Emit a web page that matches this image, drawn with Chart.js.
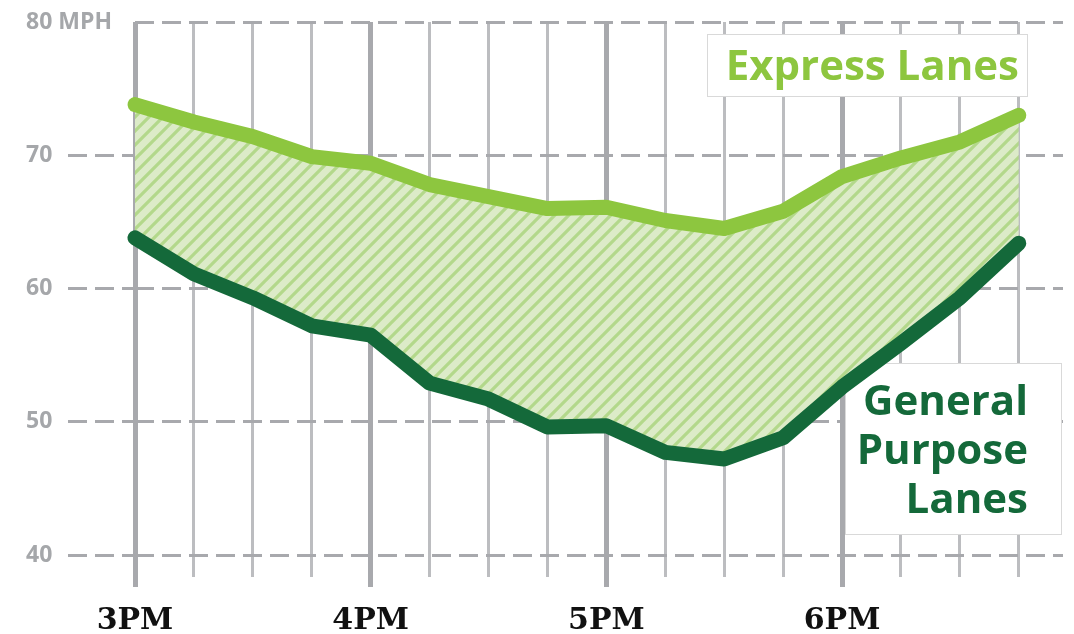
<!DOCTYPE html>
<html>
<head>
<meta charset="utf-8">
<script src="https://cdn.jsdelivr.net/npm/chart.js@4.4.1/dist/chart.umd.min.js"></script>
<style>
html,body{margin:0;padding:0;background:#ffffff;}
#wrap{width:1074px;height:634px;position:relative;}
</style>
</head>
<body>
<div id="wrap"><canvas id="c" width="1074" height="634"></canvas></div>
<script>
// ---- data ----
const times = ['3:00','3:15','3:30','3:45','4:00','4:15','4:30','4:45','5:00','5:15','5:30','5:45','6:00','6:15','6:30','6:45'];
const expressLanes = [73.8, 72.5, 71.4, 69.9, 69.4, 67.8, 66.9, 66.0, 66.1, 65.1, 64.5, 65.8, 68.4, 69.8, 71.0, 73.0];
const generalPurposeLanes = [63.8, 61.1, 59.3, 57.2, 56.5, 52.9, 51.7, 49.6, 49.7, 47.7, 47.2, 48.8, 52.6, 55.9, 59.3, 63.4];
const hourLabels = ['3PM', '4PM', '5PM', '6PM'];
const yTickValues = [40, 50, 60, 70, 80];
const yTickLabels = ['40', '50', '60', '70', '80 MPH'];
const seriesNames = ['Express Lanes', 'General Purpose Lanes'];

const canvas = document.getElementById('c');
const ctx = canvas.getContext('2d');

function makeHatch() {
  const s = 14;
  const c = document.createElement('canvas');
  c.width = s; c.height = s;
  const g = c.getContext('2d');
  g.fillStyle = '#dcebc8';
  g.fillRect(0, 0, s, s);
  g.strokeStyle = '#b3d88b';
  g.lineWidth = 3.2;
  g.beginPath();
  g.moveTo(-s, s); g.lineTo(s, -s);
  g.moveTo(0, s); g.lineTo(s, 0);
  g.moveTo(0, 2 * s); g.lineTo(2 * s, 0);
  g.stroke();
  return ctx.createPattern(c, 'repeat');
}

const GRID_MAJOR = '#a8a9ad';
const GRID_MINOR = '#bcbdc0';
const isMajor = (c) => c.index % 4 === 0;

const boxes = [
  { x: 707, y: 34, w: 321, h: 63, color: '#8dc63f', right: 1019, lines: [seriesNames[0]], baselines: [80] },
  { x: 845, y: 363, w: 217, h: 172, color: '#14693a', right: 1028, lines: seriesNames[1].split(' '), baselines: [415, 464, 513] }
];

const labelBoxes = {
  id: 'labelBoxes',
  beforeDatasetsDraw(chart) {
    const g = chart.ctx;
    g.save();
    boxes.forEach(b => {
      g.fillStyle = '#ffffff';
      g.fillRect(b.x, b.y, b.w, b.h);
      g.strokeStyle = '#d9d9d9';
      g.lineWidth = 1;
      g.strokeRect(b.x + 0.5, b.y + 0.5, b.w - 1, b.h - 1);
      g.fillStyle = b.color;
      g.font = 'bold 42px "Open Sans"';
      g.textAlign = 'right';
      g.textBaseline = 'alphabetic';
      b.lines.forEach((t, i) => g.fillText(t, b.right, b.baselines[i]));
    });
    g.restore();
  }
};

function build() {
  const toPts = (arr) => arr.map((v, i) => ({ x: i, y: v }));
  new Chart(ctx, {
    type: 'line',
    data: {
      datasets: [
        {
          label: seriesNames[0],
          data: toPts(expressLanes),
          borderColor: '#8dc63f',
          borderWidth: 15,
          backgroundColor: makeHatch(),
          fill: '+1',
          order: 1
        },
        {
          label: seriesNames[1],
          data: toPts(generalPurposeLanes),
          borderColor: '#14693a',
          borderWidth: 15,
          fill: false,
          order: 0
        }
      ]
    },
    options: {
      responsive: false,
      animation: false,
      devicePixelRatio: 1,
      layout: { padding: { left: 26, right: 11, top: 22, bottom: 0 } },
      elements: {
        line: { tension: 0, borderCapStyle: 'round', borderJoinStyle: 'round' },
        point: { radius: 0, hoverRadius: 0 }
      },
      datasets: { line: { clip: false } },
      plugins: {
        legend: { display: false },
        tooltip: { enabled: false },
        filler: { drawTime: 'beforeDatasetDraw' }
      },
      scales: {
        x: {
          type: 'linear',
          min: 0,
          max: 15.75,
          afterBuildTicks: (s) => { s.ticks = times.map((t, i) => ({ value: i })); },
          afterFit: (s) => { s.height = 57; },
          border: { display: false },
          grid: {
            color: (c) => isMajor(c) ? GRID_MAJOR : GRID_MINOR,
            lineWidth: (c) => isMajor(c) ? 5 : 3,
            tickLength: 10,
            tickColor: (c) => isMajor(c) ? GRID_MAJOR : 'rgba(0,0,0,0)',
            tickWidth: (c) => isMajor(c) ? 5 : 3
          },
          ticks: {
            autoSkip: false,
            maxRotation: 0,
            padding: 16,
            color: '#111111',
            font: { family: '"DejaVu Serif"', weight: 'bold', size: 30 },
            callback: (v, i) => (i % 4 === 0 ? hourLabels[i / 4] : '')
          }
        },
        y: {
          min: 38.35,
          max: 80,
          afterBuildTicks: (s) => { s.ticks = yTickValues.map(v => ({ value: v })); },
          afterFit: (s) => { s.width = 109; },
          border: { display: false, dash: [19, 8] },
          grid: {
            color: '#a8a9ad',
            lineWidth: 3,
            tickLength: 67,
            tickWidth: 3,
            tickBorderDash: [19, 8],
            tickColor: (c) => (c.tick && c.tick.value === 80) ? 'rgba(0,0,0,0)' : '#a8a9ad'
          },
          ticks: {
            crossAlign: 'far',
            padding: 0,
            color: '#a5a7aa',
            font: { family: '"Open Sans"', weight: 'bold', size: 23 },
            callback: (v) => yTickLabels[yTickValues.indexOf(v)]
          }
        }
      }
    },
    plugins: [labelBoxes]
  });
}

if (document.fonts && document.fonts.load) {
  Promise.all([
    document.fonts.load('bold 42px "Open Sans"'),
    document.fonts.load('bold 23px "Open Sans"'),
    document.fonts.load('bold 30px "DejaVu Serif"')
  ]).then(build, build);
} else {
  build();
}
</script>
</body>
</html>
